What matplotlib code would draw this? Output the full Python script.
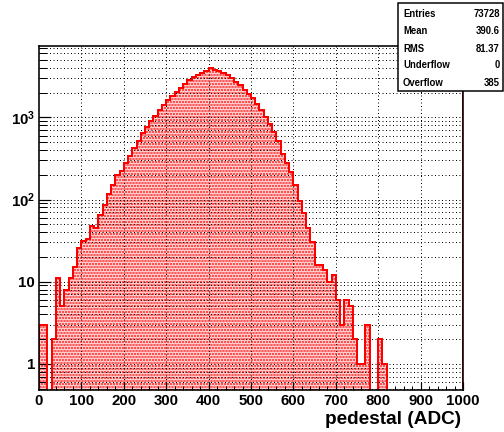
import numpy as np
import matplotlib
matplotlib.use("Agg")
import matplotlib.pyplot as plt
from matplotlib.ticker import FixedLocator, LogLocator, NullFormatter, MultipleLocator

# ---- data ----
bin_edges_range = (0, 1000)
n_bins = 100
counts = [
    3, 3, 0, 2, 11, 5, 8, 11, 15, 26,
    31, 33, 48, 45, 65, 87, 118, 150, 200, 225,
    275, 335, 420, 520, 640, 760, 900, 1050, 1220, 1420,
    1620, 1830, 2060, 2300, 2550, 2820, 3080, 3320, 3520, 3700,
    3950, 3800, 3650, 3500, 3300, 3000, 2700, 2450, 2150, 1950,
    1700, 1450, 1220, 1000, 830, 660, 520, 360, 280, 215,
    150, 95, 68, 45, 30, 16, 16, 14, 10, 12,
    6, 3, 6, 5, 2, 1, 1, 3, 0, 0,
    2, 1, 0, 0, 0, 0, 0, 0, 0, 0,
    0, 0, 0, 0, 0, 0, 0, 0, 0, 0,
]
x_ticks = [0, 100, 200, 300, 400, 500, 600, 700, 800, 900, 1000]
y_ticks = [1, 10, 100, 1000]
y_ticklabels = ["1", "10", r"$\mathbf{10^{2}}$", r"$\mathbf{10^{3}}$"]
stats_names = ["Entries", "Mean", "RMS", "Underflow", "Overflow"]
stats_values = ["73728", "390.6", "81.37", "0", "385"]
x_label = "pedestal (ADC)"

plt.rcParams["font.family"] = ["Liberation Sans", "DejaVu Sans"]
plt.rcParams["font.weight"] = "bold"
plt.rcParams["mathtext.fontset"] = "custom"
plt.rcParams["mathtext.rm"] = "Liberation Sans:bold"
plt.rcParams["mathtext.bf"] = "Liberation Sans:bold"
plt.rcParams["hatch.linewidth"] = 1.6

W, H = 504, 432
fig = plt.figure(figsize=(W / 72, H / 72), dpi=72)
ax = fig.add_axes([39 / W, 1 - 390 / H, (463 - 39) / W, (390 - 46) / H])

edges = np.linspace(bin_edges_range[0], bin_edges_range[1], n_bins + 1)
vals = np.array(counts, dtype=float)
ymin, ymax = 0.48, 7400
draw_vals = np.where(vals > 0, vals, ymin * 0.5)

last = int(np.nonzero(vals)[0].max()) + 1
e = edges[: last + 1]
v = draw_vals[:last]

ax.set_yscale("log")
ax.set_xlim(0, 1000)
ax.set_ylim(ymin, ymax)

# fill: pinkish dotted pattern
xs = np.repeat(e, 2)[1:-1]
ys = np.repeat(v, 2)
ax.fill_between(xs, ymin * 0.5, ys, facecolor="#ffd6d6", edgecolor="#ff2020",
                hatch="....", linewidth=0, zorder=1)
ax.stairs(v, e, baseline=ymin * 0.5, color="#ff0000", linewidth=2.0, zorder=4)
ax.axvline(1000, color="#ff0000", linewidth=3, zorder=4)

# grid
ax.set_axisbelow(False)
ax.xaxis.set_major_locator(FixedLocator(x_ticks))
ax.xaxis.set_minor_locator(MultipleLocator(20))
ax.yaxis.set_major_locator(FixedLocator(y_ticks))
ax.yaxis.set_minor_locator(LogLocator(base=10, subs=np.arange(2, 10), numticks=20))
ax.yaxis.set_minor_formatter(NullFormatter())
ax.set_yticklabels(y_ticklabels)
ax.set_xticklabels([str(t) for t in x_ticks])

for gx in x_ticks[1:-1]:
    ax.axvline(gx, color="black", linestyle=(0, (1, 2.5)), linewidth=1.0, zorder=3)
ygrid = [m * 10 ** d for d in range(-1, 4) for m in range(1, 10)]
for gy in ygrid:
    if ymin < gy < ymax:
        ax.axhline(gy, color="black", linestyle=(0, (1, 2.5)), linewidth=1.0, zorder=3)

ax.tick_params(axis="both", which="both", direction="in", top=False, right=False)
ax.tick_params(axis="x", which="major", length=8, width=1.2, labelsize=15, pad=4)
ax.tick_params(axis="x", which="minor", length=4, width=1.0)
ax.tick_params(axis="y", which="major", length=12, width=1.2, labelsize=15, pad=4)
ax.tick_params(axis="y", which="minor", length=8, width=1.0)
for lab in ax.get_xticklabels() + ax.get_yticklabels():
    lab.set_fontweight("bold")

for s in ax.spines.values():
    s.set_linewidth(1.6)
    s.set_zorder(6)

fig.text(461 / W, 1 - 420 / H, x_label, ha="right", va="center",
         fontsize=19, fontweight="bold")

# stats box
bx0, by0, bx1, by1 = 398, 3, 503, 91
rect = plt.Rectangle((bx0 / W, 1 - by1 / H), (bx1 - bx0) / W, (by1 - by0) / H,
                     transform=fig.transFigure, facecolor="white", edgecolor="black",
                     linewidth=1.5, zorder=10)
fig.patches.append(rect)
row_y = [14, 31.5, 49, 65.5, 82.5]
for name, val, ry in zip(stats_names, stats_values, row_y):
    fig.text(403 / W, 1 - ry / H, name, ha="left", va="center", fontsize=9.5,
             fontweight="bold", zorder=11)
    fig.text(500 / W, 1 - ry / H, val, ha="right", va="center", fontsize=9.5,
             fontweight="bold", zorder=11)

fig.savefig("out.png", dpi=72)
